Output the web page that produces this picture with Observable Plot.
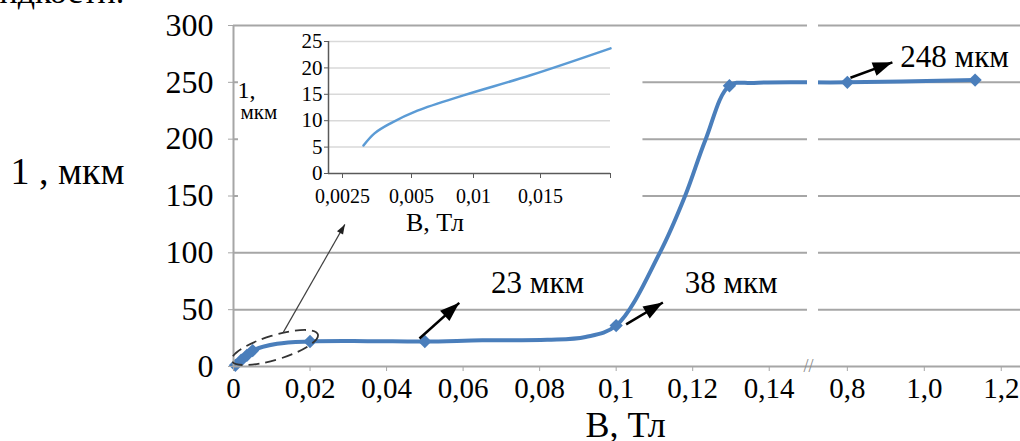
<!DOCTYPE html>
<html><head><meta charset="utf-8">
<script src="https://cdn.jsdelivr.net/npm/d3@7"></script>
<script src="https://cdn.jsdelivr.net/npm/@observablehq/plot@0.6"></script>
<style>
body{margin:0;background:#fff;}
#wrap{position:relative;width:1020px;height:441px;overflow:hidden;font-family:"Liberation Serif",serif;background:#fff;}
#wrap svg{position:absolute;overflow:visible;}
#cut{position:absolute;left:-24px;top:-25px;font-size:34px;line-height:34px;white-space:nowrap;color:#000;}
</style></head>
<body><div id="wrap"><div id="cut">жидкости.</div></div>
<script>
// ---- main curve ----
const curveB = [0.0005, 0.005, 0.0114, 0.02, 0.035, 0.05, 0.065, 0.082, 0.092, 0.1, 0.1114, 0.118, 0.1234, 0.1296, 0.136, 0.8, 1.132];
const curveL = [1, 14, 20, 22, 22.3, 22, 23, 23.5, 26, 36, 100, 150, 200, 247, 249.5, 250, 252];
// ---- diamond markers ----
const markB = [0.0005, 0.002, 0.0035, 0.005, 0.02, 0.05, 0.1, 0.1296, 0.8, 1.132];
const markL = [1, 5.5, 9.8, 14, 22, 22, 36, 247, 250, 252];
// ---- inset curve ----
const insetB = [0.00326, 0.00366, 0.00424, 0.00548, 0.00919, 0.01425, 0.02];
const insetL = [5.3, 7.6, 9.5, 11.9, 14.8, 18.6, 23.7];
// ---- axes ----
const yTicks = [0, 50, 100, 150, 200, 250, 300];
const xTicks = [0, 0.02, 0.04, 0.06, 0.08, 0.1, 0.12, 0.14, 0.8, 1.0, 1.2];
const insetYTicks = [0, 5, 10, 15, 20, 25];
const insetXTicks = [0.0025, 0.005, 0.01, 0.015, 0.02];
const xBreak = [0.15, 0.725];
// ---- annotations ----
const annText = ["23 мкм", "38 мкм", "248 мкм"];
const annTextB = [0.0673, 0.1179, 0.9377];
const annTextL = [64.3, 65, 263.5];
const annFromB = [0.0486, 0.1026, 0.808];
const annFromL = [24.6, 37, 254];
const annToB = [0.059, 0.1122, 0.917];
const annToL = [56, 56.3, 267.6];
const zoomFrom = [0.013, 30], zoomTo = [0.0291, 125];
const zoomEllipse = [0.0108, 16.7];

const blue = "#4a7ebb";
const grid = "#a6a6a6";
const font = '"Liberation Serif", "Times New Roman", serif';

const xDomain = [0, xBreak[0], xBreak[1], 1.25];
const xRange = [233, 807, 818, 1020];
const yDomain = [0, 300], yRange = [366, 25];
const sx = d3.scaleLinear(xDomain, xRange), sy = d3.scaleLinear(yDomain, yRange);
const angle = (b1, l1, b2, l2) => Math.atan2(sx(b2) - sx(b1), -(sy(l2) - sy(l1))) * 180 / Math.PI;

const curve = curveB.map((b, i) => ({b, l: curveL[i]}));
const marks = markB.map((b, i) => ({b, l: markL[i]}));
const anns = annText.map((t, i) => ({t, tb: annTextB[i], tl: annTextL[i], b1: annFromB[i], l1: annFromL[i], b2: annToB[i], l2: annToL[i], a: angle(annFromB[i], annFromL[i], annToB[i], annToL[i])}));
const thin = [{b1: zoomFrom[0], l1: zoomFrom[1], b2: zoomTo[0], l2: zoomTo[1], a: angle(zoomFrom[0], zoomFrom[1], zoomTo[0], zoomTo[1])}];

const headSym = {draw(ctx, size) { const L = Math.sqrt(size); ctx.moveTo(0, 0); ctx.lineTo(-0.36 * L, L); ctx.lineTo(0.36 * L, L); ctx.closePath(); }};
const ellipseSym = {draw(ctx, size) {
  const rx = Math.sqrt(size / Math.PI), ry = rx * 0.27, k = 0.5523;
  ctx.moveTo(rx, 0);
  ctx.bezierCurveTo(rx, ry * k, rx * k, ry, 0, ry);
  ctx.bezierCurveTo(-rx * k, ry, -rx, ry * k, -rx, 0);
  ctx.bezierCurveTo(-rx, -ry * k, -rx * k, -ry, 0, -ry);
  ctx.bezierCurveTo(rx * k, -ry, rx, -ry * k, rx, 0);
  ctx.closePath();
}};
const fmt = d => (d >= 0.7 ? d.toFixed(1) : String(+d.toFixed(2))).replace(".", ",");

const main = Plot.plot({
  width: 1020, height: 441,
  marginLeft: 233, marginRight: 0, marginTop: 25, marginBottom: 75,
  style: {fontFamily: font, background: "transparent", overflow: "visible", color: "black"},
  x: {type: "linear", domain: xDomain, range: xRange, label: null},
  y: {type: "linear", domain: yDomain, range: yRange, label: null},
  marks: [
    Plot.ruleY(yTicks.filter(d => d > 0), {stroke: grid, strokeWidth: 2}),
    Plot.line(curve, {x: "b", y: "l", curve: "catmull-rom", stroke: blue, strokeWidth: 4}),
    Plot.dot(marks, {x: "b", y: "l", symbol: "diamond2", r: 6, fill: blue}),
    Plot.rect([{x1: xBreak[0], x2: xBreak[1], y1: 3, y2: 303}], {x1: "x1", x2: "x2", y1: "y1", y2: "y2", fill: "white"}),
    Plot.rect([{x1: 0.0013, x2: 0.107, y1: 108, y2: 297.5}], {x1: "x1", x2: "x2", y1: "y1", y2: "y2", fill: "white"}),
    Plot.ruleY([0], {stroke: grid, strokeWidth: 2}),
    Plot.ruleX([0], {y1: 0, y2: 300, stroke: grid, strokeWidth: 2}),
    Plot.axisY({ticks: yTicks, tickSize: 5, tickPadding: 15, fontSize: 32, stroke: grid, fill: "black", label: null}),
    Plot.axisX({ticks: xTicks, tickFormat: fmt, tickSize: 5, tickPadding: 6, fontSize: 29, stroke: grid, fill: "black", label: null}),
    Plot.text(["//"], {x: [xBreak[0]], y: [0], fontSize: 18, fill: "#888", dx: 1}),
    // zoom ellipse + thin pointer
    Plot.dot([{b: zoomEllipse[0], l: zoomEllipse[1]}], {x: "b", y: "l", symbol: ellipseSym, r: 45, rotate: -17, fill: "none", stroke: "#333", strokeWidth: 1.8, strokeDasharray: "11,6"}),
    Plot.link(thin, {x1: "b1", y1: "l1", x2: "b2", y2: "l2", stroke: "#404040", strokeWidth: 1.2}),
    Plot.dot(thin, {x: "b2", y: "l2", symbol: headSym, r: 5.5, rotate: "a", fill: "#202020"}),
    // annotations
    Plot.link(anns, {x1: "b1", y1: "l1", x2: "b2", y2: "l2", stroke: "black", strokeWidth: 2.5}),
    Plot.dot(anns, {x: "b2", y: "l2", symbol: headSym, r: 11, rotate: "a", fill: "black"}),
    Plot.text(anns, {x: "tb", y: "tl", text: "t", textAnchor: "start", lineAnchor: "bottom", fontSize: 31, fill: "black"}),
    // axis titles
    Plot.text(["1 , мкм"], {frameAnchor: "top-left", dx: -223, dy: 158, textAnchor: "start", lineAnchor: "bottom", fontSize: 38, fill: "black"}),
    Plot.text(["B, Тл"], {x: [0.092], frameAnchor: "bottom", dy: 70, textAnchor: "start", lineAnchor: "bottom", fontSize: 36, fill: "black"})
  ]
});
main.style.left = "0px"; main.style.top = "0px";

const insetData = insetB.map((b, i) => ({b, l: insetL[i]}));
const inset = Plot.plot({
  width: 410, height: 215,
  marginLeft: 92, marginRight: 36, marginTop: 13, marginBottom: 70,
  style: {fontFamily: font, background: "transparent", overflow: "visible", color: "black"},
  x: {type: "linear", domain: [0, 0.0025, 0.005, 0.01, 0.015, 0.02], range: [92, 106, 175, 237, 304, 374], label: null},
  y: {type: "linear", domain: [0, 25], range: [145, 13], label: null},
  marks: [
    Plot.ruleY(insetYTicks.filter(d => d > 0), {x1: 0, x2: 0.02, stroke: "#d9d9d9", strokeWidth: 1.5}),
    Plot.line(insetData, {x: "b", y: "l", curve: "catmull-rom", stroke: "#5b9bd5", strokeWidth: 2.5}),
    Plot.ruleY([0], {x1: 0, x2: 0.02, stroke: "#595959", strokeWidth: 1.5}),
    Plot.ruleX([0], {y1: 0, y2: 25, stroke: "#595959", strokeWidth: 1.5}),
    Plot.axisY({ticks: insetYTicks, tickSize: 4, tickPadding: 2, fontSize: 21, stroke: "#595959", fill: "black", label: null}),
    Plot.axisX({ticks: insetXTicks, tickFormat: d => d === 0.02 ? "" : String(d).replace(".", ","), tickSize: 5, tickPadding: 10, fontSize: 20, stroke: "#595959", fill: "black", label: null}),
    Plot.text(["1,"], {frameAnchor: "top-left", dx: -91, dy: 56, textAnchor: "start", lineAnchor: "bottom", fontSize: 24, fill: "black"}),
    Plot.text(["мкм"], {frameAnchor: "top-left", dx: -88, dy: 77, textAnchor: "start", lineAnchor: "bottom", fontSize: 21, fill: "black"}),
    Plot.text(["B, Тл"], {x: [0.0048], frameAnchor: "bottom", dy: 57, textAnchor: "start", lineAnchor: "bottom", fontSize: 26, fill: "black"})
  ]
});
inset.style.left = "236px"; inset.style.top = "28px";

const wrap = document.getElementById("wrap");
wrap.appendChild(main);
wrap.appendChild(inset);
</script>
</body></html>
